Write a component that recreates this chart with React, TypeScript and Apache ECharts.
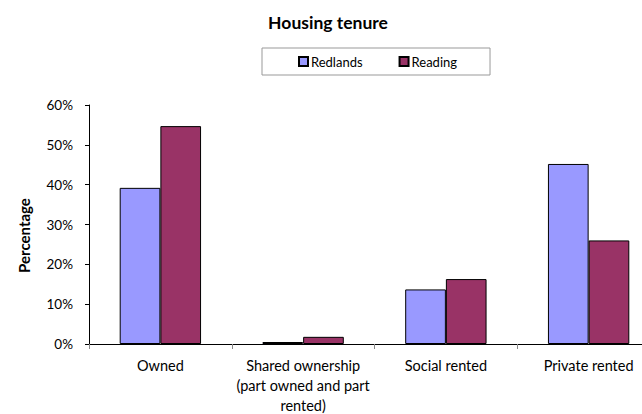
import React, { useEffect, useRef } from "react";
import * as echarts from "echarts";

const categories = [
  "Owned",
  "Shared ownership\n(part owned and part\nrented)",
  "Social rented",
  "Private rented",
];
const redlands = [39.2, 0.5, 13.7, 45.2];
const reading = [54.7, 1.8, 16.3, 26.0];
const seriesNames = ["Redlands", "Reading"];

const FONT = "Lato";

export default function App() {
  const ref = useRef<HTMLDivElement>(null);
  useEffect(() => {
    if (!ref.current) return;
    const chart = echarts.init(ref.current, undefined, { renderer: "svg" });
    chart.setOption({
      animation: false,
      backgroundColor: "#ffffff",
      textStyle: { fontFamily: FONT },
      title: {
        text: "Housing tenure",
        left: 323,
        textAlign: "center",
        top: 8,
        textStyle: { fontFamily: FONT, fontSize: 17.5, fontWeight: "bold", color: "#000" },
      },
      legend: {
        left: 262,
        top: 48,
        orient: "horizontal",
        icon: "rect",
        itemWidth: 9,
        itemHeight: 9,
        itemGap: 36,
        padding: [7, 33, 7, 36],
        borderColor: "#999",
        borderWidth: 1,
        textStyle: { fontFamily: FONT, fontSize: 13, color: "#000", padding: [0, 0, 0, -2] },
        data: seriesNames,
      },
      grid: {
        left: 89,
        top: 105,
        width: 571,
        height: 239,
        containLabel: false,
        outerBoundsMode: "none",
      },
      xAxis: {
        type: "category",
        data: categories,
        axisLine: { lineStyle: { color: "#000", width: 1 } },
        axisTick: { show: true, alignWithLabel: false, length: 5, lineStyle: { color: "#888" } },
        axisLabel: {
          fontFamily: FONT,
          fontSize: 14.5,
          color: "#000",
          lineHeight: 20,
          margin: 11,
          interval: 0,
        },
      },
      yAxis: {
        type: "value",
        min: 0,
        max: 60,
        interval: 10,
        name: "Percentage",
        nameLocation: "middle",
        nameGap: 58,
        nameRotate: 90,
        nameTextStyle: {
          fontFamily: FONT,
          fontSize: 15,
          fontWeight: "bold",
          color: "#000",
          padding: [0, 22, 0, 0],
        },
        splitLine: { show: false },
        axisLine: { show: true, lineStyle: { color: "#000", width: 1 } },
        axisTick: { show: true, length: 4, lineStyle: { color: "#000" } },
        axisLabel: {
          fontFamily: FONT,
          fontSize: 13.5,
          color: "#000",
          margin: 16,
          formatter: "{value}%",
        },
      },
      series: [
        {
          name: seriesNames[0],
          type: "bar",
          data: redlands,
          barGap: "0%",
          barCategoryGap: "43%",
          itemStyle: { color: "#9999FF", borderColor: "#000", borderWidth: 1 },
        },
        {
          name: seriesNames[1],
          type: "bar",
          data: reading,
          barGap: "0%",
          barCategoryGap: "43%",
          itemStyle: { color: "#993366", borderColor: "#000", borderWidth: 1 },
        },
      ],
    });
    return () => chart.dispose();
  }, []);
  return <div ref={ref} style={{ width: 642, height: 414, position: "absolute", left: 0, top: 0 }} />;
}
